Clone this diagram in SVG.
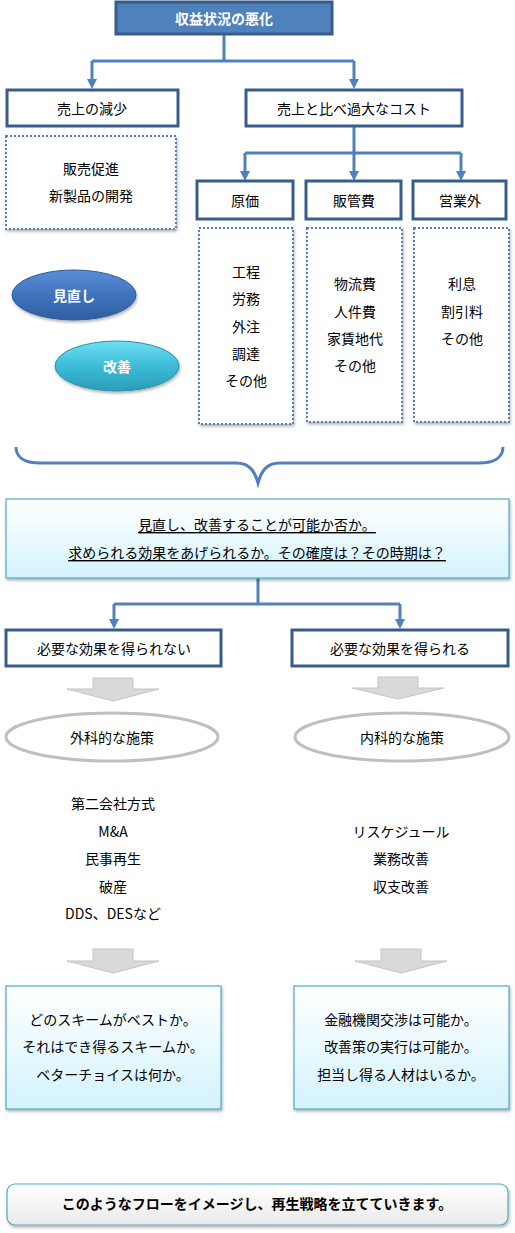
<svg xmlns="http://www.w3.org/2000/svg" width="515" height="1233" viewBox="0 0 515 1233">
<style>
text{font-family:"Noto Sans CJK JP","Liberation Sans",sans-serif;font-size:14px;fill:#000;text-anchor:middle;dominant-baseline:central}
.wb{fill:#fff;font-weight:bold}
.b{font-weight:bold}
.box{fill:#fff;stroke:#385D8A;stroke-width:3}
.dot{fill:#fff;stroke:#4F81BD;stroke-width:2;stroke-dasharray:2 2}
.conn{fill:none;stroke:#4F81BD;stroke-width:3}
.cyanbox{fill:url(#gCyan);stroke:#4BACC6;stroke-width:1.2}
.garrow{fill:#D9D9D9;stroke:#C4C4C4;stroke-width:1}
.gell{fill:#fff;stroke:#BFBFBF;stroke-width:3}
.u{text-decoration:underline}
</style>
<defs>
<linearGradient id="gCyan" x1="0" y1="0" x2="0" y2="1"><stop offset="0" stop-color="#FFFFFF"/><stop offset="1" stop-color="#D3F3FD"/></linearGradient>
<linearGradient id="gGray" x1="0" y1="0" x2="0" y2="1"><stop offset="0" stop-color="#FFFFFF"/><stop offset="1" stop-color="#EAEAEA"/></linearGradient>
<linearGradient id="gBlue" x1="0" y1="0" x2="0" y2="1"><stop offset="0" stop-color="#5A8FD6"/><stop offset="0.5" stop-color="#3F74BE"/><stop offset="1" stop-color="#2F5EA0"/></linearGradient>
<linearGradient id="gTeal" x1="0" y1="0" x2="0" y2="1"><stop offset="0" stop-color="#6FE0F4"/><stop offset="0.5" stop-color="#3CBCD8"/><stop offset="1" stop-color="#2A9DB8"/></linearGradient>
<filter id="sh" x="-10%" y="-10%" width="130%" height="130%"><feDropShadow dx="1" dy="2" stdDeviation="1.5" flood-color="#000" flood-opacity="0.3"/></filter>
<marker id="ar" markerUnits="userSpaceOnUse" markerWidth="10" markerHeight="10" viewBox="0 0 10 10" refX="5" refY="9" orient="auto-start-reverse">
<path d="M0,0 L10,0 L5,9 Z" fill="#4F81BD" transform="rotate(0)"/>
</marker>
</defs>

<g id="connectors">
<path class="conn" d="M224,35 V61 M92,61 H354"/>
<line class="conn" x1="92" y1="61" x2="92" y2="80"/>
<path d="M87,79 L97,79 L92,89 Z" fill="#4F81BD"/>
<line class="conn" x1="354" y1="61" x2="354" y2="80"/>
<path d="M349,79 L359,79 L354,89 Z" fill="#4F81BD"/>
<path class="conn" d="M354,126 V153 M245,153 H461"/>
<line class="conn" x1="245" y1="153" x2="245" y2="172"/>
<path d="M240,171 L250,171 L245,181 Z" fill="#4F81BD"/>
<line class="conn" x1="354" y1="153" x2="354" y2="172"/>
<path d="M349,171 L359,171 L354,181 Z" fill="#4F81BD"/>
<line class="conn" x1="461" y1="153" x2="461" y2="172"/>
<path d="M456,171 L466,171 L461,181 Z" fill="#4F81BD"/>
<path class="conn" d="M16,447 C16,457 24,463 40,463 L236,463 C250,463 255,472 258,483 C261,472 266,463 280,463 L479,463 C495,463 503,457 503,447"/>
<path class="conn" d="M258,578 V604 M114,604 H400"/>
<line class="conn" x1="114" y1="604" x2="114" y2="620"/>
<path d="M109,619 L119,619 L114,629 Z" fill="#4F81BD"/>
<line class="conn" x1="400" y1="604" x2="400" y2="620"/>
<path d="M395,619 L405,619 L400,629 Z" fill="#4F81BD"/>
<polygon class="garrow" points="93,678 133,678 133,689 159,689 113,701 67,689 93,689"/>
<polygon class="garrow" points="378,677 418,677 418,688 444,688 398,699 352,688 378,688"/>
<polygon class="garrow" points="93,949 133,949 133,961 159,961 113,973 67,961 93,961"/>
<polygon class="garrow" points="381,949 421,949 421,961 447,961 401,973 355,961 381,961"/>
</g>

<g id="n-top">
<rect x="116" y="2" width="216" height="32" fill="#4F81BD" stroke="#385D8A" stroke-width="3"/>
<text class="wb" x="224" y="18">収益状況の悪化</text>
</g>

<g id="n-sales">
<rect class="box" x="7" y="90" width="171" height="36"/>
<text x="92" y="108">売上の減少</text>
</g>
<g id="n-sales-list">
<rect class="dot" x="6" y="136" width="170" height="93" filter="url(#sh)"/>
<text x="91" y="168">販売促進</text>
<text x="91" y="195">新製品の開発</text>
</g>

<g id="n-cost">
<rect class="box" x="246" y="90" width="216" height="36"/>
<text x="354" y="108">売上と比べ過大なコスト</text>
</g>

<g id="n-genka">
<rect class="box" x="197" y="181" width="96" height="38"/>
<text x="245" y="200">原価</text>
</g>
<g id="n-genka-list">
<rect class="dot" x="199" y="228" width="94" height="196" filter="url(#sh)"/>
<text x="246" y="271">工程</text>
<text x="246" y="298">労務</text>
<text x="246" y="326">外注</text>
<text x="246" y="353">調達</text>
<text x="246" y="380">その他</text>
</g>

<g id="n-hankan">
<rect class="box" x="306" y="181" width="95" height="38"/>
<text x="354" y="200">販管費</text>
</g>
<g id="n-hankan-list">
<rect class="dot" x="307" y="228" width="95" height="194" filter="url(#sh)"/>
<text x="355" y="283">物流費</text>
<text x="355" y="311">人件費</text>
<text x="355" y="338">家賃地代</text>
<text x="355" y="365">その他</text>
</g>

<g id="n-eigyogai">
<rect class="box" x="413" y="181" width="93" height="38"/>
<text x="460" y="200">営業外</text>
</g>
<g id="n-eigyogai-list">
<rect class="dot" x="414" y="228" width="95" height="194" filter="url(#sh)"/>
<text x="462" y="283">利息</text>
<text x="462" y="311">割引料</text>
<text x="462" y="338">その他</text>
</g>

<g id="n-minaoshi">
<ellipse cx="74" cy="295" rx="62" ry="25" fill="url(#gBlue)" stroke="#2F5A96" stroke-width="1" filter="url(#sh)"/>
<text class="wb" x="74" y="295">見直し</text>
</g>
<g id="n-kaizen">
<ellipse cx="117" cy="366" rx="62" ry="25" fill="url(#gTeal)" stroke="#2A8FA8" stroke-width="1" filter="url(#sh)"/>
<text class="wb" x="117" y="366">改善</text>
</g>

<g id="n-question">
<rect class="cyanbox" x="6" y="499" width="503" height="79" filter="url(#sh)"/>
<text class="u" x="257" y="524">見直し、改善することが可能か否か。</text>
<text class="u" x="257" y="552">求められる効果をあげられるか。その確度は？その時期は？</text>
</g>

<g id="n-no">
<rect class="box" x="6" y="630" width="215" height="36"/>
<text x="114" y="648">必要な効果を得られない</text>
</g>
<g id="n-yes">
<rect class="box" x="292" y="630" width="216" height="36"/>
<text x="400" y="648">必要な効果を得られる</text>
</g>

<g id="n-geka">
<ellipse class="gell" cx="112" cy="737" rx="106" ry="24"/>
<text x="112" y="737">外科的な施策</text>
</g>
<g id="n-naika">
<ellipse class="gell" cx="402" cy="737" rx="107" ry="24"/>
<text x="402" y="737">内科的な施策</text>
</g>

<g id="n-geka-list">
<text x="113" y="803">第二会社方式</text>
<text x="113" y="831">M&amp;A</text>
<text x="113" y="858">民事再生</text>
<text x="113" y="886">破産</text>
<text x="113" y="913">DDS、DESなど</text>
</g>
<g id="n-naika-list">
<text x="401" y="831">リスケジュール</text>
<text x="401" y="858">業務改善</text>
<text x="401" y="886">収支改善</text>
</g>

<g id="n-geka-q">
<rect class="cyanbox" x="6" y="986" width="215" height="123" filter="url(#sh)"/>
<text x="113" y="1019">どのスキームがベストか。</text>
<text x="113" y="1046">それはでき得るスキームか。</text>
<text x="113" y="1074">ベターチョイスは何か。</text>
</g>
<g id="n-naika-q">
<rect class="cyanbox" x="294" y="986" width="215" height="123" filter="url(#sh)"/>
<text x="401" y="1019">金融機関交渉は可能か。</text>
<text x="401" y="1046">改善策の実行は可能か。</text>
<text x="401" y="1074">担当し得る人材はいるか。</text>
</g>

<g id="n-summary">
<rect x="7" y="1184" width="501" height="41" rx="8" ry="8" fill="url(#gGray)" stroke="#4BACC6" stroke-width="1.2" filter="url(#sh)"/>
<text class="b" x="257" y="1203">このようなフローをイメージし、再生戦略を立てていきます。</text>
</g>
</svg>
